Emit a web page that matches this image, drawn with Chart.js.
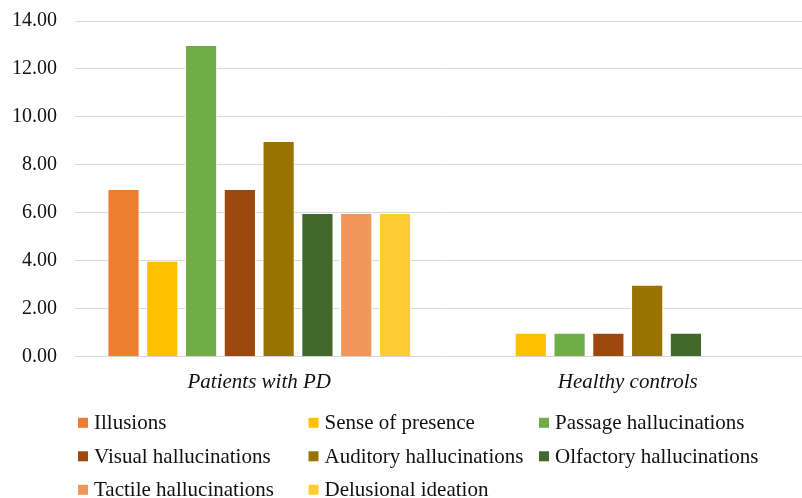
<!DOCTYPE html>
<html>
<head>
<meta charset="utf-8">
<script src="https://cdn.jsdelivr.net/npm/chart.js@4.4.0/dist/chart.umd.min.js"></script>
<style>
  html, body { margin: 0; padding: 0; background: #fff; overflow: hidden; }
  #wrap { position: relative; top: -9px; width: 812px; height: 507px; }
</style>
</head>
<body>
<div id="wrap"><canvas id="chart"></canvas></div>
<script>
const categories = ["Patients with PD", "Healthy controls"];
const yTicks = [0, 2, 4, 6, 8, 10, 12, 14];

const illusions   = [7, 0];
const presence    = [4, 1];
const passage     = [13, 1];
const visual      = [7, 1];
const auditory    = [9, 3];
const olfactory   = [6, 1];
const tactile     = [6, 0];
const delusional  = [6, 0];

const series = [
  ["Illusions", illusions, "#ED7D31"],
  ["Sense of presence", presence, "#FFC000"],
  ["Passage hallucinations", passage, "#70AD47"],
  ["Visual hallucinations", visual, "#9E480E"],
  ["Auditory hallucinations", auditory, "#997300"],
  ["Olfactory hallucinations", olfactory, "#43682B"],
  ["Tactile hallucinations", tactile, "#F1975A"],
  ["Delusional ideation", delusional, "#FFCD33"]
];

// legend drawn as a 3-column grid, like the Excel one
const gridLegend = {
  id: "gridLegend",
  afterDraw(chart) {
    const { ctx, chartArea } = chart;
    ctx.save();
    ctx.font = '21px "Liberation Serif"';
    ctx.textBaseline = "middle";
    chart.data.datasets.forEach((ds, i) => {
      const col = i % 3, row = Math.floor(i / 3);
      const x = chartArea.left + 3 + col * 230.5;
      const y = chartArea.bottom + 66 + row * 33.5;
      ctx.fillStyle = ds.backgroundColor;
      ctx.fillRect(x, y - 5, 10, 10);
      ctx.fillStyle = "#111";
      ctx.fillText(ds.label, x + 16, y + 1);
    });
    ctx.restore();
  }
};

new Chart(document.getElementById("chart"), {
  type: "bar",
  data: {
    labels: categories,
    datasets: series.map(([label, data, color]) => ({
      label, data,
      backgroundColor: color,
      borderColor: "#fff",
      borderWidth: 1,
      barPercentage: 0.83,
      categoryPercentage: 0.842
    }))
  },
  options: {
    responsive: true,
    maintainAspectRatio: false,
    animation: false,
    layout: { padding: { top: 0, right: 0, bottom: 98, left: 0 } },
    plugins: { legend: { display: false }, tooltip: { enabled: false } },
    scales: {
      x: {
        grid: { display: false },
        border: { display: false },
        ticks: { color: "#111", padding: 5, font: { family: "Liberation Serif", size: 21, style: "italic" } }
      },
      y: {
        min: 0, max: 14,
        afterBuildTicks: axis => { axis.ticks = yTicks.map(v => ({ value: v })); },
        afterFit: axis => { axis.width = 75; },
        grid: { color: "#d9d9d9", lineWidth: 1, drawTicks: false },
        border: { display: false },
        ticks: {
          color: "#111", padding: 18,
          font: { family: "Liberation Serif", size: 20 },
          callback: v => Number(v).toFixed(2)
        }
      }
    }
  },
  plugins: [gridLegend]
});
</script>
</body>
</html>
